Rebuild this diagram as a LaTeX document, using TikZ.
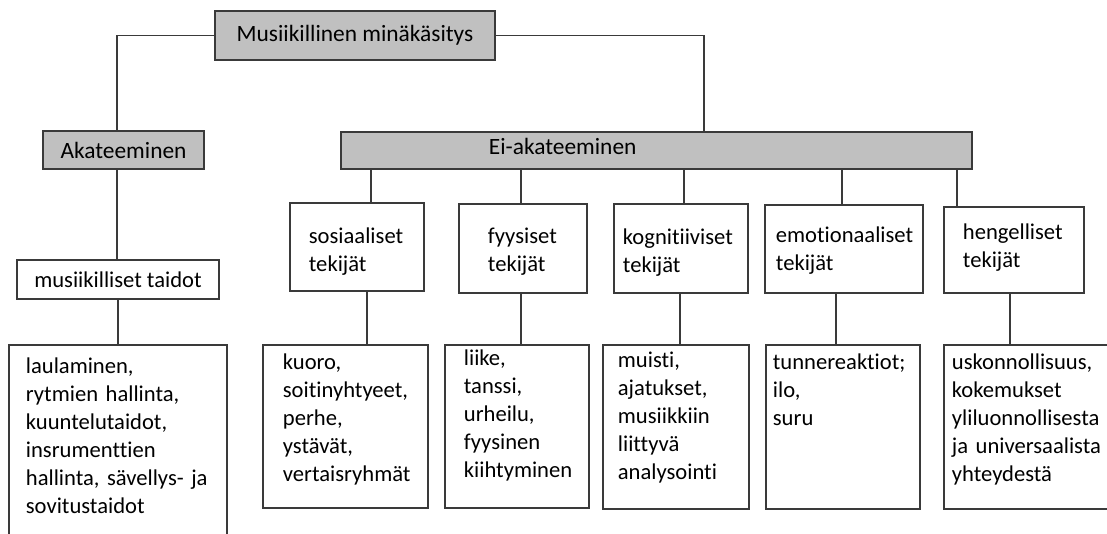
\documentclass[tikz,border=0pt]{standalone}
\usepackage{fontspec}
\setmainfont{Carlito}[Ligatures=NoCommon]
\definecolor{boxgray}{HTML}{C0C0C0}
\definecolor{linegray}{HTML}{3A3A3A}
\lefthyphenmin=64
\hyphenpenalty=10000

\begin{document}
\begin{tikzpicture}[x=0.5pt, y=-0.5pt,
  every node/.style={font=\fontsize{11.3}{14}\selectfont},
  frame/.style={draw=linegray, line width=0.9pt},
  head/.style={frame, fill=boxgray, font=\fontsize{11.7}{14}\selectfont},
  cell/.style n args={4}{frame, fill=white, anchor=north west, inner sep=0pt, align=left,
    text width=#1, text height=#3, text depth=#4, execute at begin node={\leftskip=#2}},
  link/.style={draw=linegray, line width=0.9pt}]
  \useasboundingbox (0,0) rectangle (1107,534);
  \fill[white] (0,0) rectangle (1107,534);
  \clip (0,0) rectangle (1107,534);

  % upper levels
  \node[head, minimum width=140pt, minimum height=24.5pt] (top) at (355,35.5) {Musiikillinen minäkäsitys};
  \node[head, minimum width=80.5pt, minimum height=19pt] (aka) at (123.5,150) {Akateeminen};
  \node[cell={315.5pt}{74pt}{11.5pt}{7pt}, head] (ei) at (340,131) {Ei-akateeminen};
  \node[frame, fill=white, minimum width=101pt, minimum height=19.5pt] (mus) at (118,279.5) {musiikilliset taidot};

  % the five groups of factors
  \node[cell={67pt}{9.5pt}{20.5pt}{23.5pt}] (sos) at (289,202) {sosiaaliset\\tekijät};
  \node[cell={64pt}{14.5pt}{20pt}{24.5pt}] (fyy) at (458,203) {fyysiset\\tekijät};
  \node[cell={67pt}{4.5pt}{20.5pt}{24pt}] (kog) at (613,203) {kognitiiviset\\tekijät};
  \node[cell={79pt}{5.5pt}{19pt}{25pt}] (emo) at (764,204) {emotionaaliset\\tekijät};
  \node[cell={70pt}{9.5pt}{16.5pt}{26.5pt}] (hen) at (943,206) {hengelliset\\tekijät};

  % lists
  \node[cell={109pt}{8.5pt}{14.5pt}{90pt}] (laul) at (8,344)
    {laulaminen,\\rytmien hallinta,\\kuuntelutaidot,\\insrumenttien\\hallinta, sävellys- ja\\sovitustaidot};
  \node[cell={82.5pt}{10pt}{12.5pt}{69pt}] (kuo) at (262,344)
    {kuoro,\\soitinyhtyeet,\\perhe,\\ystävät,\\vertaisryhmät};
  \node[cell={72pt}{9.5pt}{10.5pt}{71pt}] (lii) at (444,344)
    {liike,\\tanssi,\\urheilu,\\fyysinen\\kiihtyminen};
  \node[cell={73pt}{7.5pt}{11.5pt}{70.5pt}] (mui) at (602,344)
    {muisti,\\ajatukset,\\musiikkiin\\liittyvä\\analysointi};
  \node[cell={77pt}{3.5pt}{12.5pt}{69.5pt}] (tun) at (765,344)
    {tunnereaktiot;\\ilo,\\suru};
  \node[cell={100pt}{4pt}{12.5pt}{69.5pt}] (usk) at (943,344)
    {uskonnollisuus,\\kokemukset\\yliluonnollisesta\\ja universaalista\\yhteydestä};

  % connectors
  \draw[link] (top.west) -| ([xshift=-3.25pt]aka.north);
  \draw[link] (top.east) -| ([xshift=23.75pt]ei.north);
  \draw[link] ([xshift=-3.25pt]aka.south) -- ([xshift=-3.25pt]aka.south |- mus.north);
  \draw[link] (mus.south) -- (mus.south |- laul.north);
  \foreach \n/\dx in {sos/7pt, fyy/-1pt, kog/1.5pt, emo/-1pt, hen/-28.5pt}
    \draw[link] ([xshift=\dx]\n.north) -- ([xshift=\dx]\n.north |- ei.south);
  \foreach \a/\b/\dx in {sos/kuo/5pt, fyy/lii/-1pt, kog/mui/-0.5pt, emo/tun/-4pt, hen/usk/-2pt}
    \draw[link] ([xshift=\dx]\a.south) -- ([xshift=\dx]\a.south |- \b.north);
\end{tikzpicture}
\end{document}
